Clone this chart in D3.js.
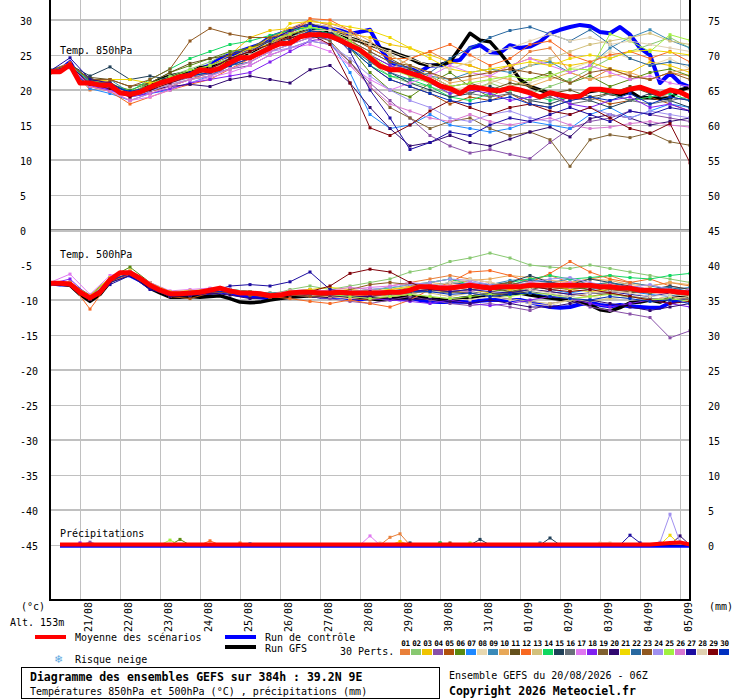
<!DOCTYPE html>
<html><head><meta charset="utf-8">
<script src="https://cdn.jsdelivr.net/npm/d3@7/dist/d3.min.js"></script>
<style>
html,body{margin:0;padding:0;background:#fff;}
svg{display:block;}
</style></head>
<body>
<svg id="chart" width="740" height="700"></svg>
<script>
// ---------------- DATA ----------------
const dates = ["21/08","22/08","23/08","24/08","25/08","26/08","27/08","28/08","29/08","30/08","31/08","01/09","02/09","03/09","04/09","05/09"];
const leftTicks = [30,25,20,15,10,5,0,-5,-10,-15,-20,-25,-30,-35,-40,-45];
const rightTicks = [75,70,65,60,55,50,45,40,35,30,25,20,15,10,5,0];
const memberNames = ["01","02","03","04","05","06","07","08","09","10","11","12","13","14","15","16","17","18","19","20","21","22","23","24","25","26","27","28","29","30"];
const memberColors = ["#e9803a","#88c870","#f0c400","#8850a8","#b0500c","#5a8a10","#1e88ff","#e8d8b0","#3a8ab8","#e8a858","#64501c","#f86820","#d2c07c","#10d860","#204058","#687078","#e078f0","#8020f0","#806030","#300870","#f0d800","#2868a0","#905820","#a090f0","#a0f040","#d878d0","#1c0ca0","#e0d0b0","#800008","#0030c0"];

// 6-hourly series (0h .. 384h from 20/08 06Z)
const mean850 = [22.6,22.6,23.6,21.0,21.0,20.7,20.7,19.6,19.4,19.7,
 20.4,21.0,21.4,21.9,22.1,22.9,22.7,23.1,23.9,24.6,
 24.6,25.3,26.0,26.6,26.7,27.6,27.9,27.9,27.7,27.1,
 26.4,25.7,24.6,23.4,22.9,22.9,22.4,22.0,21.4,20.6,
 20.2,19.5,20.4,20.3,20.0,19.9,20.3,20.0,19.6,19.0,
 19.6,19.3,19.0,19.1,20.1,20.1,19.9,19.7,20.1,20.4,
 19.9,19.4,20.0,19.7,19.0];
const ctrl850 = [22.6,22.8,24.0,21.5,21.2,20.5,20.3,19.8,19.3,19.5,
 20.0,21.0,21.5,22.0,22.5,23.0,23.5,24.5,25.0,25.5,
 26.0,26.5,27.5,28.0,28.5,29.0,29.2,29.0,28.8,28.5,
 28.0,28.3,28.6,26.0,24.0,23.3,23.0,22.6,23.5,23.5,
 24.0,24.3,26.0,26.4,25.4,25.3,26.4,26.0,26.2,26.9,
 28.1,28.6,29.0,29.3,29.1,28.3,28.1,29.0,27.9,26.0,
 25.0,21.0,22.4,21.0,20.4];
const gfs850 = [22.6,22.7,23.8,21.2,21.5,21.0,20.8,19.5,19.5,20.0,
 20.8,21.5,22.0,22.3,22.5,23.2,23.2,23.6,24.3,24.9,
 25.0,25.8,26.5,27.2,27.5,28.2,28.5,28.5,28.3,27.9,
 27.4,27.0,26.5,26.0,25.6,25.0,24.5,23.8,23.5,23.6,
 24.0,26.0,28.1,27.1,26.9,25.3,23.5,21.5,20.5,20.0,
 19.5,19.2,19.0,19.2,19.8,20.0,19.5,19.3,19.8,18.9,
 18.9,18.8,18.8,20.0,20.4];
const mean500 = [-7.6,-7.6,-7.7,-8.9,-9.7,-8.9,-7.1,-6.1,-6.1,-6.9,
 -7.9,-8.6,-9.1,-9.1,-9.0,-8.9,-8.6,-8.3,-8.7,-9.0,
 -9.0,-9.1,-9.4,-9.3,-9.0,-8.9,-8.9,-9.0,-9.0,-8.9,
 -9.0,-9.0,-9.0,-9.0,-8.9,-8.9,-8.6,-8.1,-8.1,-8.3,
 -8.3,-8.1,-7.9,-8.1,-8.3,-8.1,-8.1,-8.1,-7.9,-7.9,
 -7.9,-7.9,-7.9,-7.9,-7.9,-8.1,-8.1,-8.3,-8.3,-8.6,
 -8.6,-8.7,-8.7,-8.9,-9.0];
const ctrl500 = [-7.6,-7.8,-7.8,-9.0,-9.8,-9.0,-7.3,-6.3,-6.5,-7.2,
 -8.2,-8.8,-9.3,-9.4,-9.2,-9.3,-9.0,-8.8,-9.0,-9.3,
 -9.5,-9.6,-9.8,-9.5,-9.3,-9.2,-9.3,-9.5,-9.6,-9.5,
 -9.8,-9.9,-9.7,-9.6,-9.8,-9.9,-9.7,-10.0,-10.2,-10.3,
 -10.3,-10.2,-10.3,-10.1,-10.0,-10.0,-10.0,-10.0,-10.3,-10.7,
 -11.0,-11.1,-11.0,-10.6,-10.4,-10.7,-10.9,-10.7,-10.9,-11.0,
 -11.1,-11.1,-10.4,-10.0,-9.3];
const gfs500 = [-7.6,-7.7,-7.9,-9.2,-10.2,-9.2,-7.4,-6.4,-6.4,-7.1,
 -8.3,-9.0,-9.6,-9.6,-9.5,-9.6,-9.5,-9.4,-9.8,-10.3,
 -10.4,-10.3,-10.0,-9.8,-9.6,-9.5,-9.4,-9.5,-9.4,-9.3,
 -9.5,-9.6,-9.8,-10.0,-9.9,-9.7,-9.5,-9.6,-9.8,-9.9,
 -10.0,-9.8,-9.6,-9.4,-9.3,-9.3,-9.1,-9.0,-9.3,-9.5,
 -9.7,-9.9,-10.0,-10.3,-10.7,-11.4,-11.6,-11.1,-10.4,-10.3,
 -10.0,-10.3,-9.7,-9.3,-9.6];

// 12-hourly perturbation members, 850 hPa
const members850 = [
 [22.5,23.2,20.0,20.5,19.2,19.8,20.8,21.5,22.5,24.0,25.8, 27.5,28.8,30.0,29.2,27.5,24.5,23.0,24.5,25.5,24.0,23.5, 22.5,23.0,25.5,26.0,22.5,21.5,23.0,22.0,21.5,22.5,22.0],
 [22.7,23.6,21.2,20.6,19.6,20.9,22.0,23.0,24.0,25.5,25.8, 27.0,28.0,29.0,28.5,26.5,24.0,22.0,21.0,20.5,19.5,20.0, 21.0,20.0,19.5,20.5,21.5,23.0,24.5,25.5,26.5,27.5,26.0],
 [22.4,23.4,21.0,21.0,19.8,20.5,21.5,22.5,23.5,25.0,27.5, 28.5,28.8,29.0,28.5,28.0,27.5,26.5,26.0,25.0,24.0,23.5, 22.5,23.5,24.5,24.0,23.5,24.0,23.0,22.5,24.0,23.5,22.5],
 [22.6,23.3,21.3,20.3,19.5,20.2,21.0,21.8,22.3,23.0,23.5, 25.0,26.0,27.0,26.5,24.0,21.0,18.5,16.0,13.5,12.0,11.0, 11.5,10.8,10.2,12.5,14.5,15.5,16.0,17.0,16.5,16.0,15.5],
 [22.8,23.7,21.5,21.2,19.0,19.8,20.5,21.5,22.0,23.5,24.5, 26.5,27.0,28.5,28.0,26.0,23.5,21.5,20.5,19.5,18.0,19.0, 18.5,19.5,18.0,17.5,18.5,19.0,18.0,18.5,19.0,18.0,17.0],
 [22.5,23.6,21.4,20.8,20.0,21.0,22.5,23.5,24.5,25.5,26.0, 27.5,28.5,29.5,28.5,26.0,22.5,20.0,19.0,21.0,22.5,20.5, 19.0,20.5,21.5,22.5,21.0,22.0,20.5,21.5,22.5,23.0,22.0],
 [22.6,23.4,20.2,19.5,18.5,19.5,20.0,21.0,22.0,23.5,25.0, 26.5,27.5,28.5,27.0,22.5,16.5,14.5,15.0,16.5,15.0,14.5, 14.0,14.5,15.5,15.0,14.5,16.5,17.5,16.0,17.0,18.0,17.5],
 [22.7,23.5,21.0,20.4,19.2,20.5,21.5,22.0,22.8,23.8,25.0, 26.5,28.0,29.0,28.5,27.0,25.0,23.5,23.0,21.0,20.0,20.5, 21.5,20.5,21.0,22.0,23.0,24.0,25.5,24.5,23.5,24.5,23.0],
 [22.9,23.8,21.5,21.5,19.6,20.2,21.2,22.0,22.5,23.5,24.5, 26.0,27.5,28.8,28.5,27.0,25.5,24.0,23.0,22.0,21.5,22.5, 23.0,22.5,23.5,24.0,22.5,23.5,26.0,27.5,28.6,27.1,26.0],
 [22.6,23.5,20.8,20.6,19.3,20.0,21.2,22.3,23.0,24.5,25.5, 27.5,28.5,29.8,29.5,28.5,27.0,25.0,23.5,22.5,21.0,21.5, 22.0,21.5,20.5,21.5,22.5,21.5,22.0,22.5,21.5,22.5,23.0],
 [22.4,23.2,21.8,21.5,20.5,21.0,22.5,23.8,24.5,25.0,26.0, 27.0,27.5,28.5,28.5,27.5,26.0,24.5,23.0,22.0,20.5,21.0, 20.0,21.0,20.5,19.5,20.0,19.0,19.5,20.5,19.5,19.0,18.5],
 [22.7,23.9,20.5,19.8,18.0,19.0,20.0,20.8,21.5,23.0,24.5, 26.5,28.0,30.2,30.0,28.5,26.0,24.5,24.5,25.5,26.5,25.0, 23.5,24.5,26.5,27.0,25.0,24.0,25.0,25.5,24.5,25.5,24.0],
 [22.5,23.4,21.1,20.8,19.6,20.3,21.3,22.2,22.9,24.0,25.5, 26.5,28.5,29.5,29.0,28.0,26.5,25.0,23.5,22.0,20.5,19.5, 21.0,22.0,23.5,24.5,25.5,26.5,27.0,27.5,28.1,27.0,26.5],
 [22.6,23.5,21.3,20.9,19.8,21.5,23.0,24.5,25.5,26.5,27.0, 27.8,28.5,29.0,28.0,26.0,23.5,22.0,21.5,20.5,19.0,18.5, 19.5,20.0,19.5,18.5,19.0,20.0,19.5,18.5,19.0,19.5,18.5],
 [22.7,23.6,22.0,23.3,21.5,22.0,21.5,22.0,23.0,24.0,25.0, 26.5,27.5,28.5,28.0,26.5,24.5,22.5,21.0,20.0,19.0,19.5, 20.5,19.5,18.5,18.0,19.0,18.5,17.5,18.5,19.5,18.5,17.5],
 [22.6,23.4,21.0,20.5,19.5,20.4,21.5,22.4,23.0,24.0,25.0, 26.0,27.0,28.0,27.5,26.5,25.0,23.5,22.0,21.0,20.0,19.5, 19.0,19.5,18.5,19.0,18.0,18.5,19.5,18.5,18.0,18.5,19.0],
 [22.6,23.3,20.7,20.0,18.5,19.0,20.0,21.0,21.8,22.5,23.5, 25.0,26.0,26.5,25.5,23.5,21.5,20.0,21.0,22.0,23.5,22.5, 22.0,23.5,24.5,23.5,22.5,23.5,22.5,21.5,22.0,21.0,20.5],
 [22.5,23.2,20.6,20.0,19.0,19.5,20.2,21.0,21.5,22.0,22.5, 24.0,25.5,27.0,27.5,26.5,25.0,23.5,22.5,21.0,19.5,20.0, 19.5,18.5,19.0,19.5,18.0,17.5,18.5,19.0,17.5,18.0,17.0],
 [22.7,23.5,21.0,20.8,19.5,20.5,21.5,22.5,23.5,24.5,25.0, 26.0,27.0,28.0,27.0,24.0,20.5,17.5,16.0,14.5,15.5,16.0, 14.5,13.5,14.0,12.9,9.1,12.9,13.6,13.2,13.9,12.6,12.1],
 [22.5,23.4,21.2,20.5,19.3,20.0,20.5,20.8,20.5,21.5,22.0, 21.5,21.0,22.9,23.5,21.0,17.5,14.5,12.0,12.5,13.5,12.5, 12.0,13.0,14.0,14.7,13.3,15.9,16.5,16.0,15.0,15.5,16.0],
 [22.6,23.6,21.0,21.5,21.5,21.0,21.5,22.0,22.5,24.5,26.0, 26.5,29.5,29.8,29.5,29.0,28.5,27.5,26.0,24.5,23.0,22.5, 23.0,23.5,24.0,23.5,24.5,25.0,24.5,25.5,25.7,25.4,25.0],
 [22.6,23.4,21.2,20.9,19.7,20.5,21.5,22.0,22.5,23.5,24.0, 25.5,26.5,27.5,27.5,26.0,24.0,22.5,21.5,22.5,24.5,26.0, 27.5,28.5,29.0,28.0,27.0,28.6,26.5,24.5,23.5,24.0,23.5],
 [22.8,23.7,21.5,21.5,20.5,21.5,23.0,27.0,28.8,28.0,27.5, 27.5,28.0,28.5,28.0,27.0,25.5,24.0,23.5,22.5,21.5,22.0, 22.5,23.0,22.5,22.0,21.0,22.5,23.0,22.0,21.5,22.5,21.5],
 [22.5,23.3,20.8,20.3,19.0,19.8,20.8,21.5,22.0,23.0,24.0, 25.5,26.0,27.0,26.5,24.5,22.0,20.0,18.5,17.5,16.0,15.5, 16.5,17.0,16.0,15.5,16.5,17.5,16.5,16.0,17.0,16.5,16.0],
 [22.6,23.5,21.1,20.7,19.5,20.6,21.8,22.8,23.5,24.5,25.5, 27.0,28.0,29.0,28.5,27.0,25.0,23.0,22.0,21.0,20.5,21.0, 21.5,22.0,21.5,22.0,23.0,22.9,28.0,27.0,25.5,27.9,27.1],
 [22.6,23.4,20.5,19.8,18.5,19.5,20.5,21.5,22.0,23.0,24.0, 25.5,26.5,27.5,26.5,23.5,20.5,18.0,17.0,16.0,15.5,16.5, 15.5,15.0,15.5,16.0,15.0,14.5,14.7,15.2,15.5,15.0,14.7],
 [22.7,24.6,21.5,21.0,19.5,20.5,21.5,22.5,23.0,24.5,25.5, 27.0,28.5,29.5,28.5,25.5,20.0,16.0,11.5,12.5,14.0,13.5, 15.0,16.0,15.5,16.5,17.5,16.5,15.5,17.0,16.5,17.5,17.0],
 [22.6,23.5,21.0,20.6,19.4,20.3,21.3,22.2,23.0,24.0,25.0, 26.5,27.5,28.5,28.5,27.5,26.5,25.5,24.5,23.5,23.0,24.0, 25.5,26.0,27.0,28.0,27.0,27.5,26.5,27.0,26.5,26.0,25.5],
 [22.6,23.5,20.8,20.2,19.0,20.0,21.0,22.0,23.0,24.5,25.5, 26.5,27.5,28.0,26.5,21.0,14.6,13.5,15.0,17.0,18.5,17.5, 16.5,17.5,18.0,17.0,16.5,17.5,16.0,14.5,13.8,15.2,9.6],
 [22.6,23.5,21.0,20.5,19.8,20.4,21.4,22.0,22.5,23.5,24.5, 26.0,27.0,28.5,28.0,26.0,23.5,21.5,20.5,19.5,18.5,18.0, 18.5,19.0,18.0,17.5,18.5,19.0,18.5,19.5,18.0,19.0,18.5]
];

// 12-hourly perturbation members, 500 hPa
const members500 = [
 [-7.5,-7.4,-9.5,-6.8,-6.0,-8.0,-9.5,-9.0,-8.5,-8.8,-9.2, -9.5,-9.0,-8.5,-9.2,-9.5,-9.0,-8.0,-7.5,-7.0,-6.5,-7.0, -7.5,-8.0,-7.0,-6.5,-7.5,-7.0,-6.5,-7.5,-8.0,-7.5,-8.0],
 [-7.8,-7.6,-9.8,-7.0,-6.2,-7.8,-9.0,-9.2,-8.8,-8.5,-9.0, -9.3,-8.5,-8.0,-8.5,-8.0,-7.5,-7.0,-6.0,-5.5,-4.5,-4.0, -3.3,-4.0,-5.0,-5.3,-5.5,-5.0,-5.5,-6.0,-6.5,-7.0,-7.5],
 [-7.6,-7.8,-9.6,-7.2,-6.0,-7.7,-9.0,-8.8,-8.5,-8.5,-8.8, -9.0,-8.8,-9.0,-9.5,-9.3,-9.0,-9.5,-9.0,-8.5,-9.0,-8.5, -9.0,-8.0,-7.5,-8.0,-8.5,-8.0,-7.5,-8.5,-9.0,-8.5,-9.0],
 [-7.7,-7.6,-9.5,-7.0,-6.3,-8.0,-9.2,-9.0,-8.8,-9.0,-9.2, -9.5,-9.3,-9.5,-9.8,-10.2,-10.5,-10.0,-9.5,-10.0,-10.5,-10.8, -10.5,-11.0,-11.5,-10.5,-10.0,-11.0,-11.5,-12.0,-12.5,-15.4,-14.4],
 [-7.5,-7.8,-9.9,-7.3,-6.2,-8.2,-9.5,-9.8,-9.0,-8.8,-9.2, -9.6,-9.2,-9.3,-9.5,-9.8,-10.0,-9.5,-9.2,-8.5,-8.8,-9.0, -9.5,-9.0,-8.5,-8.8,-9.2,-9.5,-9.0,-9.5,-10.0,-9.5,-10.0],
 [-7.8,-7.5,-9.3,-6.8,-5.3,-7.5,-8.8,-9.0,-8.7,-8.9,-9.3, -9.1,-8.8,-8.6,-8.8,-9.0,-8.5,-8.8,-8.5,-8.0,-8.5,-8.0, -8.5,-8.8,-8.2,-7.5,-8.0,-8.5,-8.0,-8.8,-9.0,-8.8,-9.5],
 [-7.6,-7.7,-9.7,-7.5,-6.5,-7.8,-9.0,-9.2,-8.8,-8.5,-9.0, -9.5,-9.2,-9.0,-9.2,-9.5,-9.3,-9.0,-8.5,-8.2,-8.5,-8.0, -8.5,-8.5,-8.0,-8.5,-9.0,-8.5,-8.2,-8.8,-9.2,-9.5,-9.0],
 [-7.7,-7.6,-9.8,-7.2,-6.2,-8.0,-9.3,-9.0,-8.5,-8.8,-9.0, -9.5,-9.0,-9.3,-9.5,-9.8,-9.5,-9.5,-9.0,-9.5,-9.8,-10.0, -9.5,-10.0,-10.5,-10.8,-10.0,-9.5,-9.8,-9.5,-10.0,-9.5,-9.8],
 [-7.5,-7.8,-9.6,-7.5,-6.5,-8.0,-9.0,-9.3,-8.8,-8.5,-8.8, -9.0,-8.8,-8.5,-9.0,-9.2,-9.0,-8.8,-8.2,-7.5,-7.0,-7.5, -7.8,-7.2,-7.0,-7.5,-7.0,-7.8,-8.0,-7.5,-8.0,-8.5,-8.2],
 [-7.6,-7.7,-9.8,-7.0,-6.0,-7.6,-8.8,-8.7,-8.4,-8.6,-9.0, -9.2,-8.7,-8.8,-9.0,-9.2,-8.8,-8.5,-8.0,-7.5,-7.8,-7.2, -7.0,-6.5,-6.8,-7.2,-7.5,-7.0,-7.2,-7.8,-8.0,-7.5,-7.8],
 [-7.7,-7.8,-9.9,-7.2,-6.2,-7.8,-9.0,-9.0,-8.5,-8.7,-9.1, -9.4,-9.2,-9.0,-9.3,-9.0,-9.5,-9.0,-8.8,-8.5,-8.8,-8.5, -8.2,-8.8,-8.5,-8.0,-8.5,-8.2,-8.8,-9.0,-8.5,-9.0,-9.5],
 [-7.6,-7.5,-11.3,-7.4,-6.4,-8.0,-9.2,-9.3,-8.8,-9.0,-9.0, -9.5,-9.8,-10.2,-10.5,-10.0,-10.5,-11.0,-10.0,-8.5,-7.5,-6.0, -5.8,-6.5,-7.5,-6.2,-4.5,-6.0,-7.0,-7.5,-7.0,-8.0,-8.5],
 [-7.5,-7.6,-9.6,-7.0,-6.1,-7.8,-9.0,-8.9,-8.6,-8.7,-9.2, -9.6,-9.2,-9.0,-9.3,-9.5,-9.2,-9.0,-8.5,-9.0,-9.5,-9.0, -9.5,-9.8,-10.2,-10.5,-10.0,-10.2,-9.8,-9.5,-9.8,-10.0,-9.5],
 [-7.8,-7.6,-9.5,-6.9,-6.0,-7.6,-8.8,-8.8,-8.4,-8.5,-8.8, -9.2,-8.8,-8.7,-9.0,-8.8,-8.5,-8.3,-7.8,-7.5,-7.0,-7.8, -8.0,-7.5,-7.0,-6.5,-7.0,-6.8,-6.5,-6.8,-7.0,-6.5,-6.2],
 [-7.7,-7.8,-9.8,-7.3,-6.2,-7.9,-9.3,-9.2,-8.8,-8.9,-9.1, -9.5,-9.0,-9.0,-9.2,-9.3,-9.0,-8.8,-8.5,-8.0,-8.3,-8.0, -7.8,-7.5,-6.5,-7.5,-7.8,-7.0,-7.5,-8.0,-8.5,-8.0,-8.5],
 [-7.6,-7.7,-9.7,-7.1,-6.1,-8.0,-9.1,-9.0,-8.6,-8.7,-9.0, -9.4,-9.0,-8.9,-9.0,-9.0,-9.2,-9.3,-9.0,-8.8,-9.0,-8.8, -9.2,-9.0,-8.8,-9.2,-9.5,-9.0,-9.2,-9.5,-9.8,-10.0,-9.8],
 [-7.5,-6.3,-9.2,-6.5,-5.8,-7.5,-8.7,-8.5,-8.3,-8.5,-8.9, -9.2,-8.7,-8.5,-8.8,-8.5,-8.2,-8.0,-7.5,-7.8,-8.0,-7.5, -8.0,-8.5,-8.0,-7.8,-7.5,-8.2,-8.5,-8.0,-8.5,-9.0,-8.5],
 [-7.7,-7.0,-9.6,-7.0,-6.3,-7.8,-9.0,-9.1,-8.7,-8.8,-9.2, -9.4,-9.0,-9.2,-9.0,-9.5,-9.8,-10.0,-10.2,-10.5,-10.0,-10.5, -10.8,-10.5,-10.0,-9.5,-9.8,-10.5,-11.0,-10.5,-10.0,-10.5,-11.0],
 [-7.6,-7.8,-9.8,-7.2,-6.1,-8.0,-9.2,-9.0,-8.7,-8.8,-9.0, -9.3,-9.1,-9.0,-9.1,-9.0,-9.2,-9.0,-8.7,-8.5,-8.8,-8.5, -8.5,-8.3,-8.0,-8.2,-8.5,-8.0,-8.5,-8.8,-9.0,-8.8,-9.2],
 [-7.6,-7.7,-9.9,-7.5,-6.5,-8.3,-9.5,-9.4,-9.0,-9.3,-9.8, -9.6,-9.0,-9.2,-9.4,-9.5,-9.5,-9.8,-10.0,-9.8,-10.2,-10.5, -10.0,-10.5,-11.0,-11.0,-10.5,-10.0,-10.5,-11.0,-11.5,-11.0,-10.5],
 [-7.5,-7.6,-9.4,-6.8,-5.8,-7.6,-8.8,-8.7,-8.5,-8.6,-8.9, -9.3,-8.8,-8.5,-8.2,-8.5,-8.8,-8.5,-8.2,-8.0,-8.2,-7.8, -8.2,-8.5,-8.2,-8.0,-8.5,-8.8,-8.5,-8.2,-8.8,-9.0,-9.2],
 [-7.7,-7.7,-9.7,-7.2,-6.2,-7.9,-9.1,-9.2,-8.8,-8.8,-9.1, -9.4,-9.1,-9.0,-9.1,-9.2,-9.0,-8.9,-8.5,-8.0,-7.5,-7.8, -8.0,-7.8,-7.2,-7.5,-8.0,-7.8,-7.5,-8.2,-8.5,-8.2,-8.8],
 [-7.6,-7.8,-9.8,-7.0,-6.0,-7.8,-9.0,-9.2,-8.7,-8.9,-9.3, -9.6,-9.3,-9.5,-9.3,-8.5,-7.8,-7.5,-7.8,-8.0,-8.5,-8.2, -8.0,-7.5,-8.0,-8.5,-8.2,-8.0,-8.5,-8.8,-8.5,-9.0,-9.3],
 [-7.5,-7.7,-9.6,-7.0,-6.0,-7.7,-8.9,-8.8,-8.5,-8.6,-9.0, -9.3,-8.9,-8.8,-9.0,-8.8,-8.5,-8.2,-7.8,-7.5,-7.0,-7.2, -7.8,-8.0,-7.5,-7.0,-6.8,-7.5,-8.0,-8.2,-7.8,-8.5,-9.0],
 [-7.6,-7.6,-9.7,-7.1,-6.1,-7.8,-9.1,-9.1,-8.7,-8.8,-9.1, -9.5,-9.0,-9.0,-9.2,-9.5,-9.8,-9.5,-9.2,-9.5,-9.8,-9.5, -9.2,-9.5,-9.0,-9.2,-9.8,-9.5,-9.2,-9.5,-10.0,-9.8,-10.2],
 [-7.7,-7.6,-9.6,-7.2,-6.2,-7.9,-9.0,-9.0,-8.6,-8.7,-9.0, -9.4,-9.0,-8.8,-8.6,-8.2,-8.5,-8.8,-8.5,-8.2,-8.5,-8.8, -8.2,-8.0,-7.5,-7.8,-8.2,-8.0,-7.8,-8.2,-8.5,-8.8,-9.0],
 [-7.6,-7.8,-9.8,-7.8,-6.5,-8.5,-9.3,-9.3,-8.8,-8.0,-7.8, -8.0,-7.4,-6.0,-8.5,-9.0,-8.8,-9.0,-8.8,-8.5,-8.8,-8.5, -8.8,-9.0,-8.5,-8.8,-9.2,-9.0,-8.8,-9.2,-9.5,-9.0,-8.8],
 [-7.5,-7.7,-9.7,-7.1,-6.1,-7.9,-9.1,-9.0,-8.6,-8.7,-9.0, -9.4,-9.0,-8.9,-9.0,-9.0,-9.0,-8.8,-8.5,-8.0,-7.5,-7.0, -7.5,-8.0,-8.5,-9.0,-9.5,-9.0,-8.8,-9.0,-9.5,-9.2,-9.5],
 [-7.7,-7.7,-9.8,-7.2,-6.2,-7.9,-9.2,-9.1,-8.8,-8.8,-9.1, -9.5,-9.2,-8.8,-8.0,-6.2,-5.6,-6.0,-7.5,-8.5,-8.2,-8.0, -8.5,-8.2,-8.0,-8.5,-8.8,-8.5,-9.0,-9.5,-10.0,-10.5,-10.2],
 [-7.6,-7.7,-9.7,-7.2,-6.2,-8.0,-9.2,-9.1,-8.8,-8.8,-9.0, -9.5,-9.1,-9.0,-9.2,-9.0,-9.2,-9.0,-8.8,-8.8,-9.2,-9.0, -9.5,-9.2,-9.0,-9.5,-9.8,-10.0,-9.5,-9.8,-10.2,-10.0,-10.5]
];

// precipitation (mm per 6h), 6h .. 384h
const meanPrecip = [0,0,0,0,0,0,0,0,0,0,0,0,0,0,0,0,
 0,0,0,0,0,0,0,0,0,0,0,0,0,0,0,0,
 0,0,0,0,0,0,0,0,0,0,0,0,0,0,0,0,
 0,0,0,0,0,0,0,0,0,0,0,0,0.1,0.2,0.3,0];
const ctrlPrecip = [0,0,0,0,0,0,0,0,0,0,0,0,0,0,0,0,
 0,0,0,0,0,0,0,0,0,0,0,0,0,0,0,0,
 0,0,0,0,0,0,0,0,0,0,0,0,0,0,0,0,
 0,0,0,0,0,0,0,0,0,0,0,0,0,0,0,0];
const gfsPrecip = [0,0,0,0,0,0,0,0,0,0,0,0,0,0,0,0,
 0,0,0,0,0,0,0,0,0,0,0,0,0,0,0,0,
 0,0,0,0,0,0,0,0,0,0,0,0,0,0,0,0,
 0,0,0,0,0,0,0,0,0,0,0,0,0,0,0,0];
// [member number, forecast hour, mm] - all other member values are 0
const memberPrecipEvents = [
 [18,18,0.3],[4,24,0.4],[25,72,0.7],[6,78,0.8],[12,96,0.6],[1,114,0.3],[7,120,0.2],
 [17,192,1.3],[28,198,0.3],[1,204,1.1],[1,210,1.6],[3,210,0.5],[15,216,0.3],
 [6,234,0.3],[14,234,0.3],[23,240,0.3],[25,252,0.3],[15,258,0.8],
 [9,294,0.3],[15,300,1.0],[28,330,0.3],[28,336,0.3],[27,348,1.4],[27,354,0.3],
 [24,366,0.4],[24,372,4.4],[24,378,0.4],[21,372,1.4],[20,378,1.3]
];

// ---------------- DRAWING ----------------
const FONT = '"DejaVu Sans Mono","Liberation Mono",monospace';
const svg = d3.select('#chart');
const x = d3.scaleLinear().domain([0, 384]).range([50, 690]);
const y = d3.scaleLinear().domain([-45, 30]).range([545, 20]);
const yR = d3.scaleLinear().domain([0, 75]).range([545, 20]);
const hours6 = d3.range(0, 385, 6);
const hours12 = d3.range(0, 385, 12);
const hoursP = d3.range(6, 385, 6);
const dayHours = dates.map((d, i) => 18 + 24 * i);

svg.append('defs').append('clipPath').attr('id', 'plot')
  .append('rect').attr('x', 50).attr('y', 0).attr('width', 640).attr('height', 600);

// grid
const grid = svg.append('g').attr('shape-rendering', 'crispEdges');
leftTicks.filter(v => v !== 0).forEach(v => {
  grid.append('line').attr('x1', 50).attr('x2', 690)
    .attr('y1', y(v)).attr('y2', y(v))
    .attr('stroke', '#c0c0c0').attr('stroke-width', v % 10 === 0 ? 2 : 1);
});
dayHours.forEach(h => {
  grid.append('line').attr('x1', Math.round(x(h)) + 0.5).attr('x2', Math.round(x(h)) + 0.5)
    .attr('y1', 0).attr('y2', 600).attr('stroke', '#c0c0c0').attr('stroke-width', 1);
});
grid.append('rect').attr('x', 50).attr('y', y(0) - 1.5).attr('width', 640).attr('height', 3).attr('fill', '#c0c0c0');
grid.append('line').attr('x1', 50).attr('x2', 690).attr('y1', y(0) - 1).attr('y2', y(0) - 1)
  .attr('stroke', '#909090').attr('stroke-width', 1);

const plot = svg.append('g').attr('clip-path', 'url(#plot)');

function drawSeries(values, hrs, scale, color, width, markers) {
  const pts = values.map((v, i) => [x(hrs[i]), scale(v)]);
  plot.append('path').attr('d', d3.line()(pts))
    .attr('fill', 'none').attr('stroke', color).attr('stroke-width', width)
    .attr('stroke-linejoin', 'round');
  if (markers) {
    plot.append('g').selectAll('rect').data(pts).join('rect')
      .attr('x', d => d[0] - 1.5).attr('y', d => d[1] - 1.5)
      .attr('width', 3).attr('height', 3).attr('fill', color);
  }
}

// control and GFS runs (below the members)
drawSeries(ctrl850, hours6, y, '#0000ff', 4, false);
drawSeries(ctrl500, hours6, y, '#0000ff', 4, false);
drawSeries(gfs850, hours6, y, '#000000', 3.5, false);
drawSeries(gfs500, hours6, y, '#000000', 3.5, false);

// members
members850.forEach((m, i) => drawSeries(m, hours12, y, memberColors[i], 1, true));
members500.forEach((m, i) => drawSeries(m, hours12, y, memberColors[i], 1, true));
memberNames.forEach((name, i) => {
  const num = i + 1;
  const has = memberPrecipEvents.some(ev => ev[0] === num);
  if (!has) return;
  const vals = hoursP.map(h => {
    const e = memberPrecipEvents.find(ev => ev[0] === num && ev[1] === h);
    return e ? e[2] : 0;
  });
  const pts = vals.map((v, k) => [x(hoursP[k]), yR(v)]);
  plot.append('path').attr('d', d3.line()(pts)).attr('fill', 'none')
    .attr('stroke', memberColors[i]).attr('stroke-width', 1);
  plot.append('g').selectAll('rect').data(pts.filter((p, k) => vals[k] > 0)).join('rect')
    .attr('x', d => d[0] - 1.5).attr('y', d => d[1] - 1.5)
    .attr('width', 3).attr('height', 3).attr('fill', memberColors[i]);
});

// ensemble mean on top
drawSeries(mean850, hours6, y, '#ff0000', 5, false);
drawSeries(mean500, hours6, y, '#ff0000', 5, false);

// precipitation main lines
drawSeries(gfsPrecip, hoursP, v => yR(v) + 1, '#000000', 2, false);
drawSeries(ctrlPrecip, hoursP, v => yR(v) + 1.5, '#0000ff', 2.5, false);
drawSeries(meanPrecip, hoursP, v => yR(v) - 0.5, '#ff0000', 4, false);

// frame
const frame = svg.append('g').attr('shape-rendering', 'crispEdges');
frame.append('line').attr('x1', 50).attr('x2', 50).attr('y1', 0).attr('y2', 601).attr('stroke', '#000').attr('stroke-width', 2);
frame.append('line').attr('x1', 690).attr('x2', 690).attr('y1', 0).attr('y2', 601).attr('stroke', '#000').attr('stroke-width', 2);
frame.append('line').attr('x1', 49).attr('x2', 691).attr('y1', 600).attr('y2', 600).attr('stroke', '#000').attr('stroke-width', 2);

// axes labels via d3 axes
const axL = svg.append('g').attr('transform', 'translate(50,0)')
  .call(d3.axisLeft(y).tickValues(leftTicks).tickSize(0).tickFormat(d => String(d)));
axL.select('.domain').remove();
axL.attr('font-family', FONT).attr('font-size', 10);
axL.selectAll('text').attr('x', -30).attr('text-anchor', 'start').attr('fill', '#000').attr('dy', '0.4em');

const axR = svg.append('g').attr('transform', 'translate(690,0)')
  .call(d3.axisRight(yR).tickValues(rightTicks).tickSize(0).tickFormat(d => String(d)));
axR.select('.domain').remove();
axR.attr('font-family', FONT).attr('font-size', 10);
axR.selectAll('text').attr('x', 18).attr('text-anchor', 'start').attr('fill', '#000').attr('dy', '0.4em');

const axB = svg.append('g').attr('transform', 'translate(0,600)')
  .call(d3.axisBottom(x).tickValues(dayHours).tickSize(0).tickFormat((d, i) => dates[i]));
axB.select('.domain').remove();
axB.attr('font-family', FONT).attr('font-size', 10);
axB.selectAll('.tick text').attr('transform', 'translate(11,2) rotate(-90)')
  .attr('x', 0).attr('y', 0).attr('dy', 0).attr('text-anchor', 'end').attr('fill', '#000');

// texts
function txt(s, xx, yy, opts = {}) {
  return svg.append('text').attr('x', xx).attr('y', yy).text(s)
    .attr('font-family', opts.family || FONT).attr('font-size', opts.size || 10)
    .attr('font-weight', opts.weight || 'normal').attr('fill', opts.fill || '#000');
}
txt('Temp. 850hPa', 60, 54);
txt('Temp. 500hPa', 60, 258);
txt('Précipitations', 60, 537);
txt('(°c)', 21, 610);
txt('Alt. 153m', 10, 626);
txt('(mm)', 709, 610);

// legend
const leg = svg.append('g');
leg.append('rect').attr('x', 35).attr('y', 635).attr('width', 31).attr('height', 4).attr('fill', '#ff0000');
txt('Moyenne des scénarios', 75, 641);
leg.append('rect').attr('x', 225).attr('y', 635).attr('width', 31).attr('height', 4).attr('fill', '#0000ff');
txt('Run de contrôle', 265, 641);
leg.append('rect').attr('x', 225).attr('y', 645).attr('width', 31).attr('height', 4).attr('fill', '#000000');
txt('Run GFS', 265, 652);
txt('❄', 54, 663, {family: '"DejaVu Sans",sans-serif', size: 11, fill: '#5aa8e0'});
txt('Risque neige', 75, 663);
txt('30 Perts.', 340, 655);

memberNames.forEach((name, i) => {
  const bx = 400 + i * 11;
  leg.append('rect').attr('x', bx).attr('y', 649).attr('width', 10).attr('height', 6).attr('fill', memberColors[i]);
  svg.append('text').attr('x', bx + 5.5).attr('y', 646).attr('text-anchor', 'middle')
    .attr('font-family', FONT).attr('font-size', 7.6).attr('font-weight', 'bold')
    .attr('letter-spacing', -0.4).text(name);
});

// title box
svg.append('rect').attr('x', 21.5).attr('y', 667.5).attr('width', 418).attr('height', 31)
  .attr('fill', 'none').attr('stroke', '#000').attr('stroke-width', 1);
txt('Diagramme des ensembles GEFS sur 384h : 39.2N 9E', 30, 681, {weight: 'bold', size: 11.5});
txt('Températures 850hPa et 500hPa (°C) , précipitations (mm)', 30, 695);
txt('Ensemble GEFS du 20/08/2026 - 06Z', 449, 679);
txt('Copyright 2026 Meteociel.fr', 449, 695, {weight: 'bold', size: 11.5});
</script>
</body></html>
